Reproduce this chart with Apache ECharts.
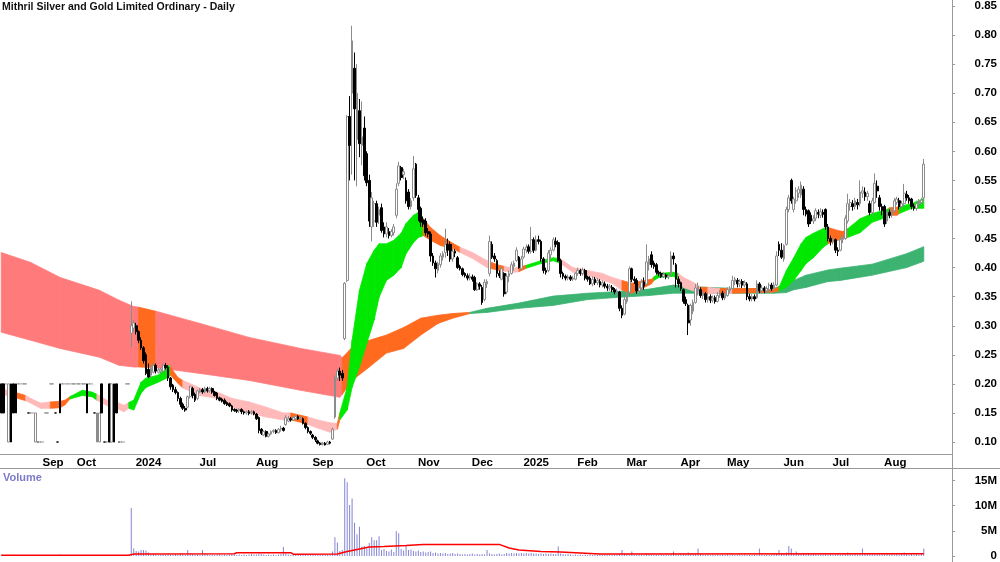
<!DOCTYPE html>
<html>
<head>
<meta charset="utf-8">
<title>Mithril Silver and Gold Limited Ordinary - Daily</title>
<script src="https://cdn.jsdelivr.net/npm/echarts@6.0.0/dist/echarts.min.js"></script>
<style>
	html, body { margin: 0; padding: 0; background: #fff; }
	#chart { width: 1000px; height: 562px; }
</style>
</head>
<body>
<div id="chart"></div>
<script>
var barCount = 388;
var tickIdx = [16, 30, 54, 80, 103, 126, 148, 169, 191, 212, 234, 254, 276, 295, 318, 338, 359];
var tickText = ['Sep', 'Oct', '2024', 'Jul', 'Aug', 'Sep', 'Oct', 'Nov', 'Dec', '2025', 'Feb', 'Mar', 'Apr', 'May', 'Jun', 'Jul', 'Aug'];

// [open, close, low, high]
var ohlc = [
	[.2,.15,.15,.2],[.2,.15,.15,.2],[.2,.2,.2,.2],[.1,.2,.1,.2],[.2,.1,.1,.2],[.2,.15,.15,.2],[.2,.15,.15,.2],[.2,.2,.2,.2],[.2,.2,.2,.2],[.2,.2,.2,.2],
	[.2,.2,.2,.2],[.15,.15,.15,.15],[.15,.15,.15,.15],[.15,.15,.15,.15],[.1,.15,.1,.15],[.1,.1,.1,.1],[.1,.1,.1,.1],[.1,.1,.1,.1],[.15,.15,.15,.15],[.15,.15,.15,.15],
	[.2,.2,.2,.2],[.2,.2,.2,.2],[.15,.15,.15,.15],[.1,.1,.1,.1],[.2,.15,.15,.2],[.2,.2,.2,.2],[.2,.2,.2,.2],[.2,.2,.2,.2],[.2,.2,.2,.2],[.2,.2,.2,.2],
	[.2,.2,.2,.2],[.2,.2,.2,.2],[.2,.2,.2,.2],[.2,.2,.2,.2],[.2,.2,.2,.2],[.2,.15,.15,.2],[.2,.2,.2,.2],[.2,.2,.2,.2],[.15,.15,.15,.15],[.1,.15,.1,.15],
	[.1,.15,.1,.15],[.2,.15,.15,.2],[.1,.1,.1,.1],[.1,.1,.1,.1],[.2,.1,.1,.2],[.1,.2,.1,.2],[.2,.1,.1,.2],[.2,.15,.15,.2],[.1,.1,.1,.1],[.1,.1,.1,.1],
	[.1,.1,.1,.1],[.2,.2,.2,.2],[.2,.2,.2,.2],[.287,.30,.263,.342],[.296,.305,.29,.31],[.30,.29,.285,.305],[.29,.275,.27,.292],[.275,.262,.258,.28],[.262,.24,.235,.265],[.25,.218,.215,.254],
	[.225,.212,.21,.235],[.215,.228,.21,.232],[.22,.232,.218,.235],[.232,.222,.218,.235],[.22,.224,.218,.228],[.222,.225,.218,.228],[.222,.232,.22,.235],[.232,.228,.225,.236],[.228,.21,.205,.232],[.21,.195,.19,.212],
	[.198,.19,.186,.2],[.19,.185,.182,.195],[.185,.175,.17,.187],[.175,.165,.16,.178],[.165,.158,.155,.168],[.158,.155,.152,.162],[.16,.178,.158,.18],[.178,.195,.175,.197],[.192,.18,.175,.195],[.182,.172,.169,.185],
	[.175,.188,.172,.19],[.186,.19,.184,.193],[.19,.186,.183,.193],[.186,.192,.184,.195],[.192,.188,.185,.195],[.188,.192,.185,.195],[.192,.186,.183,.194],[.186,.18,.178,.188],[.184,.175,.172,.186],[.176,.172,.17,.178],
	[.174,.17,.168,.176],[.172,.166,.164,.175],[.168,.164,.162,.17],[.166,.162,.16,.168],[.162,.155,.152,.164],[.156,.154,.152,.158],[.155,.153,.15,.157],[.154,.156,.15,.158],[.156,.152,.148,.158],[.152,.15,.147,.154],
	[.15,.152,.147,.154],[.152,.149,.146,.155],[.15,.152,.147,.155],[.152,.148,.146,.154],[.148,.14,.138,.15],[.142,.12,.115,.144],[.122,.115,.112,.124],[.112,.118,.11,.12],[.118,.11,.108,.12],[.11,.114,.108,.116],
	[.114,.118,.112,.12],[.118,.12,.115,.122],[.12,.116,.114,.122],[.116,.122,.115,.124],[.122,.124,.118,.128],[.124,.12,.118,.126],[.13,.142,.128,.146],[.136,.14,.134,.145],[.14,.138,.135,.143],[.138,.142,.136,.145],
	[.14,.144,.138,.146],[.144,.14,.138,.146],[.14,.142,.138,.145],[.14,.132,.13,.142],[.132,.125,.122,.134],[.125,.118,.115,.127],[.118,.115,.112,.12],[.112,.108,.105,.114],[.108,.104,.1,.11],[.102,.098,.096,.104],
	[.098,.096,.094,.1],[.096,.098,.094,.1],[.098,.095,.094,.1],[.096,.1,.095,.102],[.1,.098,.096,.102],[.105,.122,.104,.125],[.143,.21,.14,.215],[.21,.222,.205,.226],[.222,.215,.205,.228],[.218,.21,.205,.224],
	[.278,.373,.275,.375],[.378,.66,.375,.662],[.66,.61,.55,.695],[.70,.79,.56,.816],[.743,.673,.55,.77],[.62,.70,.54,.75],[.67,.613,.59,.69],[.61,.625,.576,.686],[.64,.558,.55,.66],[.596,.546,.54,.6],
	[.55,.48,.47,.56],[.47,.52,.445,.53],[.48,.51,.47,.515],[.51,.478,.47,.515],[.49,.5,.475,.505],[.503,.464,.46,.51],[.47,.458,.452,.478],[.458,.47,.452,.478],[.462,.455,.45,.468],[.455,.462,.452,.466],
	[.46,.47,.455,.475],[.49,.535,.485,.545],[.545,.575,.54,.582],[.572,.555,.55,.575],[.56,.565,.552,.57],[.55,.515,.51,.555],[.53,.505,.5,.535],[.505,.515,.5,.52],[.52,.57,.515,.592],[.578,.524,.52,.58],
	[.52,.5,.48,.525],[.502,.478,.47,.505],[.482,.475,.47,.488],[.48,.46,.455,.485],[.462,.458,.452,.468],[.458,.42,.41,.462],[.42,.408,.403,.425],[.408,.398,.383,.412],[.395,.407,.39,.41],[.405,.42,.4,.425],
	[.418,.424,.412,.428],[.426,.44,.417,.467],[.44,.43,.42,.45],[.44,.415,.41,.445],[.415,.428,.41,.432],[.428,.425,.418,.432],[.417,.4,.398,.42],[.402,.398,.395,.405],[.398,.388,.385,.4],[.39,.386,.383,.392],
	[.386,.382,.378,.39],[.382,.385,.378,.39],[.384,.38,.376,.388],[.383,.362,.36,.386],[.362,.372,.36,.375],[.372,.368,.362,.375],[.366,.34,.336,.37],[.345,.375,.342,.38],[.372,.376,.365,.38],[.39,.445,.385,.455],
	[.44,.418,.415,.445],[.42,.415,.41,.425],[.412,.39,.383,.415],[.39,.386,.382,.395],[.38,.398,.378,.402],[.39,.355,.35,.392],[.358,.385,.355,.39],[.385,.39,.375,.395],[.39,.405,.388,.41],[.402,.408,.395,.412],
	[.412,.43,.41,.435],[.418,.4,.398,.42],[.398,.415,.395,.42],[.418,.432,.415,.436],[.43,.435,.425,.44],[.436,.428,.424,.44],[.428,.448,.424,.47],[.448,.43,.425,.452],[.43,.448,.428,.455],[.448,.445,.44,.455],
	[.445,.415,.41,.448],[.415,.395,.39,.418],[.395,.392,.388,.4],[.395,.425,.392,.43],[.422,.43,.415,.435],[.43,.448,.428,.452],[.445,.44,.435,.452],[.443,.412,.41,.447],[.412,.39,.383,.415],[.39,.385,.38,.393],
	[.385,.382,.378,.388],[.382,.384,.378,.388],[.384,.38,.377,.387],[.38,.382,.377,.386],[.38,.39,.378,.392],[.39,.395,.386,.4],[.395,.39,.386,.398],[.39,.396,.386,.4],[.395,.382,.378,.398],[.384,.38,.376,.386],
	[.382,.372,.37,.385],[.372,.38,.368,.385],[.38,.374,.37,.384],[.374,.378,.37,.382],[.376,.37,.366,.38],[.37,.374,.366,.378],[.372,.368,.364,.376],[.368,.365,.36,.372],[.365,.368,.36,.372],[.366,.362,.358,.37],
	[.362,.358,.354,.365],[.358,.36,.354,.364],[.358,.33,.325,.36],[.33,.318,.313,.335],[.32,.345,.318,.35],[.342,.355,.338,.36],[.358,.398,.355,.402],[.398,.38,.375,.4],[.38,.378,.372,.385],[.378,.36,.355,.382],
	[.36,.365,.356,.37],[.365,.375,.36,.38],[.375,.368,.362,.383],[.372,.41,.37,.44],[.405,.415,.395,.42],[.422,.405,.4,.428],[.408,.402,.398,.412],[.405,.392,.388,.408],[.392,.39,.385,.395],[.39,.385,.382,.393],
	[.385,.388,.382,.392],[.387,.384,.38,.39],[.384,.386,.38,.39],[.39,.42,.386,.428],[.42,.415,.405,.426],[.405,.38,.366,.408],[.38,.372,.366,.385],[.374,.364,.36,.376],[.362,.342,.338,.364],[.345,.338,.334,.35],
	[.335,.305,.284,.338],[.31,.335,.3,.338],[.325,.34,.32,.345],[.34,.365,.338,.372],[.36,.368,.352,.374],[.362,.352,.348,.366],[.352,.356,.346,.36],[.355,.345,.34,.358],[.345,.35,.34,.356],[.35,.344,.339,.354],
	[.344,.348,.34,.352],[.348,.342,.338,.352],[.342,.352,.34,.358],[.352,.356,.348,.361],[.356,.348,.344,.36],[.348,.354,.344,.358],[.352,.362,.35,.366],[.36,.364,.356,.368],[.364,.378,.362,.386],[.376,.38,.37,.384],
	[.378,.372,.366,.382],[.372,.376,.366,.38],[.376,.37,.365,.38],[.37,.374,.366,.378],[.372,.35,.344,.375],[.35,.346,.342,.355],[.346,.35,.342,.354],[.35,.346,.342,.354],[.348,.372,.346,.378],[.372,.36,.356,.375],
	[.36,.365,.355,.37],[.365,.36,.356,.368],[.36,.364,.356,.368],[.362,.37,.358,.374],[.37,.364,.36,.374],[.364,.37,.36,.375],[.37,.42,.368,.428],[.44,.43,.42,.445],[.43,.418,.415,.442],[.415,.438,.41,.44],
	[.44,.5,.438,.505],[.5,.52,.495,.525],[.55,.515,.51,.553],[.5,.518,.495,.522],[.515,.532,.51,.538],[.528,.535,.52,.54],[.525,.542,.52,.548],[.535,.5,.49,.54],[.5,.492,.488,.505],[.498,.475,.47,.5],
	[.49,.48,.475,.495],[.48,.484,.475,.49],[.485,.498,.48,.502],[.495,.492,.485,.5],[.49,.496,.485,.502],[.495,.492,.486,.5],[.5,.47,.465,.502],[.47,.45,.445,.475],[.45,.445,.438,.455],[.445,.448,.44,.452],
	[.448,.43,.425,.45],[.43,.428,.42,.435],[.43,.448,.428,.455],[.448,.45,.442,.455],[.45,.485,.448,.49],[.48,.51,.476,.527],[.505,.512,.498,.518],[.51,.505,.498,.516],[.505,.515,.5,.52],[.512,.508,.5,.518],
	[.51,.53,.505,.55],[.528,.532,.52,.54],[.53,.522,.515,.538],[.522,.528,.515,.532],[.51,.495,.49,.515],[.495,.515,.49,.52],[.512,.545,.51,.562],[.54,.532,.52,.55],[.52,.505,.498,.525],[.505,.498,.49,.51],
	[.505,.475,.47,.508],[.48,.495,.475,.5],[.495,.49,.485,.5],[.49,.498,.486,.502],[.498,.515,.495,.52],[.512,.518,.508,.522],[.515,.505,.5,.52],[.505,.51,.5,.515],[.51,.528,.505,.544],[.526,.52,.515,.532],
	[.52,.515,.51,.525],[.518,.505,.5,.52],[.505,.502,.498,.51],[.502,.51,.498,.515],[.51,.515,.505,.518],[.512,.516,.508,.52],[.52,.578,.515,.587]
];

// millions of shares
var volume = [
	0.12,0.1,0.02,0.15,0.12,0.1,0.08,0.02,0.02,0.02,
	0.02,0.03,0.03,0.02,0.1,0.03,0.02,0.03,0.02,0.02,
	0.03,0.02,0.02,0.03,0.3,0.02,0.02,0.02,0.02,0.02,
	0.02,0.02,0.02,0.02,0.02,0.12,0.02,0.02,0.03,0.1,
	0.1,0.12,0.03,0.03,0.15,0.12,0.15,0.1,0.03,0.03,
	0.03,0.02,0.03,9.5,1.5,1.0,0.9,1.2,1.2,1.1,
	0.7,0.3,0.4,0.3,0.2,0.3,0.4,0.3,0.5,0.3,
	0.3,0.4,0.3,0.5,0.4,0.3,1.2,0.6,0.4,0.3,
	0.3,0.2,1.2,0.4,0.3,0.2,0.3,0.2,0.3,0.4,
	0.2,0.3,0.2,0.3,0.4,0.3,0.2,0.3,0.2,0.3,
	0.2,0.3,0.4,0.3,0.3,0.5,0.4,0.3,0.2,0.3,
	0.2,0.3,0.2,0.3,0.4,1.8,0.8,0.3,0.2,0.3,
	0.2,0.3,0.2,0.4,0.3,0.2,0.3,0.2,0.3,0.2,
	0.3,0.2,0.3,0.2,0.4,0.9,3.7,2.7,1.0,1.2,
	15.4,14.6,10.1,11.4,6.6,4.3,5.8,1.9,2.0,1.5,
	2.6,3.7,3.1,3.1,3.9,1.2,1.4,1.0,0.9,1.3,
	0.8,4.9,4.5,1.4,1.1,2.1,1.2,1.3,1.0,0.9,
	1.1,0.8,0.9,0.7,0.8,0.9,0.6,0.7,0.5,0.6,
	0.5,0.6,0.4,0.5,0.6,0.4,0.5,0.4,0.3,0.4,
	0.3,0.4,0.5,0.3,0.4,0.3,0.4,0.3,1.2,0.5,
	0.4,0.3,0.4,0.5,0.3,0.4,0.6,0.5,0.6,0.5,
	0.6,0.5,0.6,0.5,0.6,0.5,0.6,0.5,0.5,0.4,
	0.5,0.4,0.5,0.4,0.5,0.4,0.4,1.9,0.5,0.4,
	0.3,0.4,0.3,0.2,0.3,0.2,0.3,0.2,0.3,0.2,
	0.3,0.2,0.3,0.2,0.3,0.2,0.3,0.2,0.3,0.2,
	0.2,0.3,0.4,1.2,0.5,0.4,0.3,0.9,0.3,0.2,
	0.3,0.2,0.3,0.5,0.4,0.3,0.2,0.3,0.2,0.3,
	0.2,0.3,0.2,0.4,0.9,0.4,0.3,0.4,0.5,0.4,
	0.7,0.5,0.4,0.5,1.5,0.4,0.3,0.2,0.3,0.2,
	0.3,0.2,0.3,0.2,0.3,0.2,0.3,0.2,0.3,0.2,
	0.2,0.3,0.2,0.3,0.2,0.3,0.2,0.3,0.2,1.5,
	0.3,0.2,0.3,0.2,0.3,0.4,0.6,1.2,0.6,0.5,
	0.7,2.0,1.5,0.6,0.9,0.6,0.5,0.6,0.4,0.5,
	0.4,0.5,0.4,0.3,0.4,0.3,0.4,0.3,0.4,0.3,
	0.3,0.4,0.3,0.4,0.5,0.7,0.4,0.3,0.4,0.3,
	0.4,1.5,0.5,0.4,0.5,0.4,0.5,0.4,0.3,0.4,
	0.3,0.4,0.3,0.4,0.3,0.4,0.3,0.4,0.7,0.4,
	0.3,0.4,0.3,0.4,0.3,0.4,1.5
];

// volume average line, [bar index, millions]
var volumeAvg = [
	[0, 0.15], [52, 0.15], [54, 0.4], [95, 0.45], [96, 0.65], [118, 0.65], [119, 0.35], [137, 0.4],
	[141, 0.9], [145, 1.3], [150, 1.8], [156, 1.9], [165, 2.1], [172, 2.3], [203, 2.3], [207, 1.6],
	[211, 1.2], [220, 0.9], [228, 0.8], [236, 0.6], [244, 0.4], [376, 0.45]
];

// moving average ribbons: [bar index, top, bottom, colour of the following stretch]
var longBand = [
	[0, .426, .289, 'S'], [12, .409, .275, 'S'], [24, .383, .261, 'S'], [40, .361, .246, 'S'], [48, .344, .232, 'S'],
	[54, .333, .229, 'S'], [56, .332, .229, 'O'], [63, .325, .228, 'S'], [81, .304, .218, 'S'], [101, .28, .206, 'S'],
	[122, .261, .189, 'S'], [138, .249, .177, 'S'], [139, .245, .182, 'O'], [143, .263, .206, 'O'], [150, .275, .229, 'O'],
	[157, .284, .253, 'O'], [164, .297, .261, 'O'], [171, .313, .284, 'O'], [178, .318, .304, 'O'], [184, .321, .313, 'O'],
	[191, .323, .321, 'D'], [198, .33, .323, 'D'], [211, .339, .33, 'D'], [225, .351, .335, 'D'], [239, .356, .345, 'D'],
	[252, .359, .349, 'D'], [264, .363, .352, 'D'], [274, .37, .356, 'D'], [288, .366, .356, 'D'], [301, .364, .356, 'D'],
	[315, .364, .356, 'D'], [320, .373, .357, 'D'], [323, .378, .362, 'D'], [328, .387, .366, 'D'], [337, .396, .376, 'D'],
	[342, .399, .378, 'D'], [355, .406, .387, 'D'], [369, .424, .4, 'D'], [376, .436, .411, 'D']
];
var shortBand = [
	[0, .193, .184, 'P'], [4, .186, .177, 'P'], [6, .185, .176, 'O'], [10, .18, .171, 'P'], [12, .175, .167, 'P'],
	[16, .167, .158, 'P'], [20, .169, .158, 'O'], [24, .17, .159, 'O'], [26, .172, .164, 'O'], [28, .178, .174, 'G'],
	[33, .189, .18, 'G'], [37, .186, .178, 'G'], [39, .182, .172, 'P'], [43, .172, .163, 'P'], [47, .169, .158, 'P'],
	[50, .163, .152, 'P'], [52, .168, .158, 'G'], [54, .172, .155, 'G'], [57, .203, .184, 'G'], [59, .21, .194, 'G'],
	[64, .215, .203, 'G'], [68, .232, .211, 'G'], [69, .229, .215, 'O'], [72, .211, .201, 'O'], [74, .206, .193, 'P'],
	[81, .193, .18, 'P'], [88, .186, .175, 'P'], [94, .175, .16, 'P'], [101, .169, .15, 'P'], [108, .16, .143, 'P'],
	[115, .15, .138, 'P'], [118, .15, .138, 'O'], [122, .146, .134, 'O'], [125, .143, .13, 'P'], [129, .138, .124, 'P'],
	[134, .133, .117, 'P'], [137, .132, .122, 'O'], [138, .15, .138, 'G'], [141, .194, .155, 'G'], [143, .275, .194, 'G'],
	[146, .361, .229, 'G'], [149, .407, .27, 'G'], [152, .43, .31, 'G'], [154, .441, .349, 'G'], [157, .441, .378, 'G'],
	[160, .447, .387, 'G'], [163, .459, .4, 'G'], [165, .476, .424, 'G'], [168, .49, .443, 'G'], [170, .495, .452, 'G'],
	[172, .484, .455, 'O'], [175, .469, .447, 'O'], [179, .455, .438, 'O'], [182, .447, .435, 'O'], [184, .442, .433, 'O'],
	[187, .435, .426, 'P'], [192, .426, .416, 'P'], [198, .412, .4, 'P'], [199, .41, .399, 'O'], [203, .404, .395, 'O'],
	[205, .402, .394, 'P'], [209, .399, .392, 'P'], [211, .401, .393, 'O'], [214, .404, .399, 'G'], [220, .412, .407, 'G'],
	[225, .417, .412, 'G'], [228, .415, .407, 'P'], [233, .4, .392, 'P'], [239, .395, .387, 'P'], [245, .39, .378, 'P'],
	[249, .383, .373, 'P'], [253, .378, .361, 'O'], [257, .373, .356, 'O'], [262, .378, .366, 'O'], [265, .38, .372, 'O'],
	[266, .384, .378, 'G'], [268, .39, .383, 'G'], [274, .392, .385, 'G'], [276, .39, .38, 'P'], [278, .383, .366, 'P'],
	[282, .375, .36, 'P'], [285, .366, .356, 'O'], [288, .366, .355, 'P'], [293, .364, .356, 'O'], [296, .364, .356, 'P'],
	[298, .364, .356, 'O'], [315, .364, .358, 'O'], [317, .366, .36, 'G'], [320, .395, .366, 'G'], [323, .417, .378, 'G'],
	[326, .441, .395, 'G'], [328, .452, .407, 'G'], [331, .459, .417, 'G'], [335, .467, .435, 'G'], [337, .469, .441, 'O'],
	[341, .464, .447, 'O'], [343, .462, .45, 'O'], [345, .467, .452, 'G'], [350, .484, .46, 'G'], [355, .493, .478, 'G'],
	[361, .5, .487, 'G'], [362, .503, .49, 'O'], [365, .504, .49, 'O'], [366, .505, .493, 'G'], [371, .51, .502, 'G'],
	[376, .519, .502, 'G']
];

var colorKeys = ['S', 'O', 'D', 'G', 'P'];
var bandColors = ['#ff7b7b', '#ff6a1f', '#3cb371', '#00e800', '#ffb9b9'];
var labelFont = '"Liberation Sans Narrow", "Arial Narrow", "Liberation Sans", Arial, sans-serif';

var categories = [];
for (var i = 0; i < barCount; i++) {
	categories.push(String(i));
}

function isTick(index) {
	return tickIdx.indexOf(index) >= 0;
}

function bandSegments(band) {
	var out = [];
	for (var i = 0; i < band.length - 1; i++) {
		var p = band[i], q = band[i + 1];
		out.push([p[0], p[1], p[2], q[0], q[1], q[2], colorKeys.indexOf(p[3])]);
	}
	return out;
}

function bandItem(params, api) {
	var a = api.coord([api.value(0), api.value(1)]);
	var b = api.coord([api.value(3), api.value(4)]);
	var c = api.coord([api.value(3), api.value(5)]);
	var d = api.coord([api.value(0), api.value(2)]);
	var col = bandColors[api.value(6)];
	return {
		type: 'polygon',
		shape: { points: [a, b, c, d] },
		style: { fill: col, stroke: col, lineWidth: 0.8 }
	};
}

var chart = echarts.init(document.getElementById('chart'), null, { renderer: 'canvas' });
chart.setOption({
	animation: false,
	backgroundColor: '#ffffff',
	grid: [
		{ left: 0, right: 48, top: 0, height: 454 },
		{ left: 0, right: 48, top: 469, height: 88 }
	],
	xAxis: [{
		type: 'category',
		gridIndex: 0,
		data: categories,
		boundaryGap: true,
		axisLine: { lineStyle: { color: '#999', width: 1 } },
		axisTick: {
			alignWithLabel: true,
			interval: isTick,
			length: 3,
			lineStyle: { color: '#999' }
		},
		axisLabel: {
			interval: isTick,
			formatter: function(value, index) {
				var k = tickIdx.indexOf(index);
				return k >= 0 ? tickText[k] : '';
			},
			align: 'left',
			padding: [0, 0, 0, 2],
			margin: 3,
			color: '#000',
			fontWeight: 'bold',
			fontSize: 11.5,
			fontFamily: labelFont
		},
		splitLine: { show: false }
	}, {
		type: 'category',
		gridIndex: 1,
		data: categories,
		boundaryGap: true,
		position: 'top',
		axisLine: { show: false },
		axisTick: { show: false },
		axisLabel: { show: false },
		splitLine: { show: false }
	}],
	yAxis: [{
		type: 'value',
		gridIndex: 0,
		position: 'right',
		min: 0.0794,
		max: 0.8586,
		splitNumber: 15,
		axisLine: { show: true, lineStyle: { color: '#999' } },
		axisTick: { show: true, length: 3, lineStyle: { color: '#999' } },
		axisLabel: {
			showMinLabel: false,
			showMaxLabel: false,
			formatter: function(v) { return v.toFixed(2); },
			align: 'right',
			margin: 45,
			color: '#000',
			fontWeight: 'bold',
			fontSize: 11.5,
			fontFamily: labelFont
		},
		splitLine: { show: false }
	}, {
		type: 'value',
		gridIndex: 1,
		position: 'right',
		min: 0,
		max: 17.25,
		interval: 5,
		axisLine: { show: true, lineStyle: { color: '#999' } },
		axisTick: { show: true, length: 3, lineStyle: { color: '#999' } },
		axisLabel: {
			showMaxLabel: false,
			formatter: function(v) { return v === 0 ? '0' : v + 'M'; },
			align: 'right',
			margin: 45,
			color: '#000',
			fontWeight: 'bold',
			fontSize: 11.5,
			fontFamily: labelFont
		},
		splitLine: { show: false }
	}],
	graphic: [{
		type: 'text',
		left: 2,
		top: 2,
		style: {
			text: 'Mithril Silver and Gold Limited Ordinary - Daily',
			font: 'bold 10.5px ' + labelFont,
			fill: '#111'
		}
	}, {
		type: 'text',
		left: 3,
		top: 472,
		style: {
			text: 'Volume',
			font: 'bold 11px ' + labelFont,
			fill: '#7b7bc8'
		}
	}, {
		type: 'line',
		shape: { x1: 0, y1: 468.5, x2: 1000, y2: 468.5 },
		style: { stroke: '#999', lineWidth: 1 }
	}, {
		type: 'line',
		shape: { x1: 952.5, y1: 0, x2: 952.5, y2: 562 },
		style: { stroke: '#999', lineWidth: 1 }
	}],
	series: [{
		name: 'long',
		type: 'custom',
		xAxisIndex: 0,
		yAxisIndex: 0,
		renderItem: bandItem,
		data: bandSegments(longBand),
		encode: { x: [0, 3], y: [1, 2, 4, 5] },
		silent: true,
		z: 1
	}, {
		name: 'short',
		type: 'custom',
		xAxisIndex: 0,
		yAxisIndex: 0,
		renderItem: bandItem,
		data: bandSegments(shortBand),
		encode: { x: [0, 3], y: [1, 2, 4, 5] },
		silent: true,
		z: 2
	}, {
		name: 'price',
		type: 'candlestick',
		xAxisIndex: 0,
		yAxisIndex: 0,
		data: ohlc,
		barWidth: 2.2,
		itemStyle: {
			color: '#ffffff',
			color0: '#000000',
			borderColor: '#8c8c8c',
			borderColor0: '#000000',
			borderWidth: 1
		},
		z: 5
	}, {
		name: 'Volume',
		type: 'bar',
		xAxisIndex: 1,
		yAxisIndex: 1,
		data: volume,
		barWidth: 1,
		itemStyle: { color: '#8484d4' },
		z: 2
	}, {
		name: 'Volume avg',
		type: 'line',
		xAxisIndex: 1,
		yAxisIndex: 1,
		data: volumeAvg,
		showSymbol: false,
		lineStyle: { color: '#ff0000', width: 1.5 },
		z: 3
	}]
});
</script>
</body>
</html>
